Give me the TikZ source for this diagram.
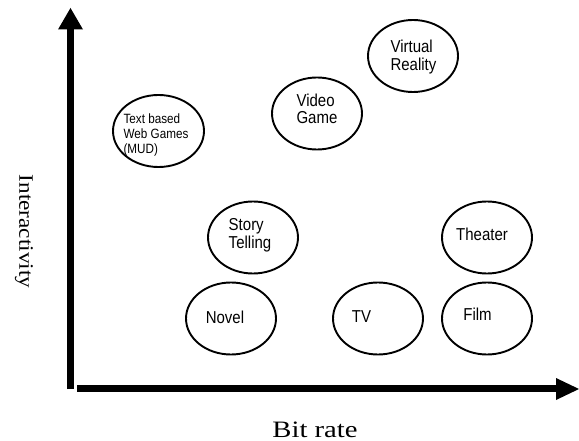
\documentclass[tikz,border=0pt]{standalone}
\usepackage{fontspec}
\usepackage{graphicx}
\newfontfamily\arialf{Liberation Sans}
\newfontfamily\timesf{Liberation Serif}
\usetikzlibrary{shapes.geometric}
\newcommand\stk[2]{\scalebox{1}[1.15]{\fontsize{#1}{14.5}\selectfont\begin{tabular}{@{}l@{}}#2\end{tabular}}}
\newcommand\one[1]{\scalebox{1}[1.15]{\fontsize{15}{14.5}\selectfont #1}}
\begin{document}
\begin{tikzpicture}[x=1pt,y=-1pt,
  bubble/.style={ellipse,draw=black,line width=1.9pt,minimum width=90pt,minimum height=72pt,inner sep=0pt},
  txt/.style={inner sep=0pt,font=\arialf},
  axis/.style={line width=7.5pt},
  head/.style={fill=black}]
\useasboundingbox (0,0) rectangle (579,441);
% axes
\coordinate (ytop) at (70.5,28);
\coordinate (ybot) at (70.5,389);
\coordinate (xl) at (77,388.5);
\coordinate (xr) at (557,388.5);
\draw[axis] (ybot) -- (ytop);
\draw[axis] (xl) -- (xr);
\fill[head] (70.5,8) -- (83,29.5) -- (58,29.5) -- cycle;
\fill[head] (579,389) -- (556,378) -- (556,400) -- cycle;
% labels
\node[inner sep=0pt,font=\timesf] (bitrate) at (315,429.5) {\scalebox{1.22}[1]{\fontsize{23.5}{25}\selectfont Bit rate}};
\node[inner sep=0pt,rotate=-90,font=\timesf] (inter) at (24,231.5) {\scalebox{1.13}[1]{\fontsize{20.5}{22}\selectfont Interactivity}};
% bubbles
\node[bubble,minimum width=91pt] (mud) at (158.5,131) {};
\node[txt] (mudT) at (156,135) {\stk{11.7}{Text based\\[-1.3pt]Web Games\\[-1.3pt](MUD)}};
\node[bubble] (video) at (317,113.5) {};
\node[txt] (videoT) at (317,111.5) {\stk{15}{Video\\Game}};
\node[bubble] (vr) at (413,56) {};
\node[txt] (vrT) at (413.5,58) {\stk{15}{Virtual\\Reality}};
\node[bubble] (story) at (253,237.5) {};
\node[txt] (storyT) at (250,236) {\stk{15}{Story\\Telling}};
\node[bubble] (theater) at (487,237.5) {};
\node[txt] (theaterT) at (482,234.5) {\one{Theater}};
\node[bubble] (novel) at (231,318.5) {};
\node[txt] (novelT) at (225,317) {\one{Novel}};
\node[bubble] (tv) at (378,318.5) {};
\node[txt] (tvT) at (361.5,317) {\one{TV}};
\node[bubble] (film) at (487,318.5) {};
\node[txt] (filmT) at (477.5,314) {\one{Film}};
\end{tikzpicture}
\end{document}
